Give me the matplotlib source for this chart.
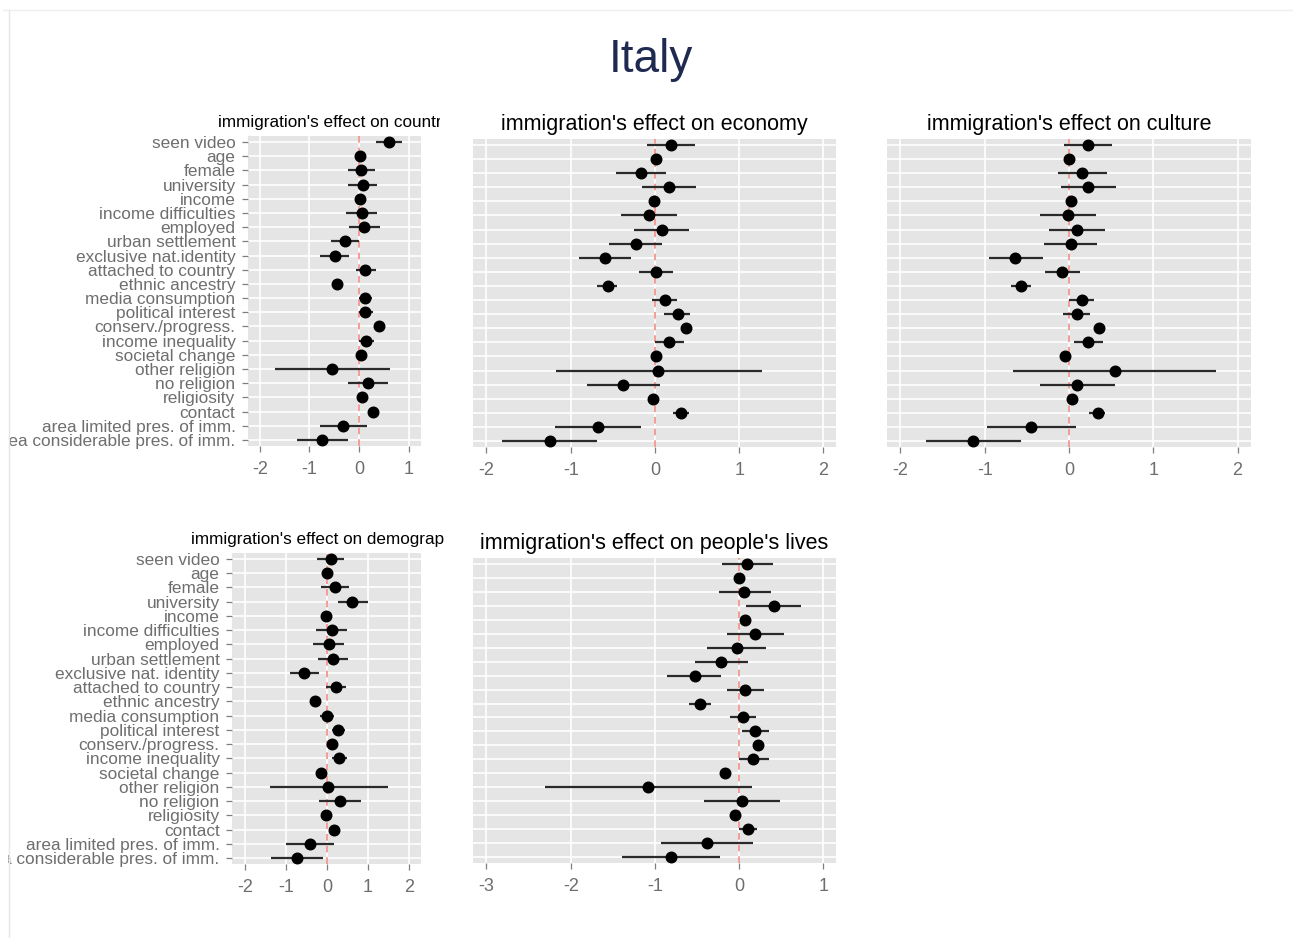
import numpy as np
import matplotlib
matplotlib.use("Agg")
import matplotlib.pyplot as plt
from matplotlib.patches import Rectangle
from matplotlib.lines import Line2D
from matplotlib.transforms import Bbox, TransformedBbox

plt.rcParams['font.family'] = ['Liberation Sans', 'DejaVu Sans']

# --- Predictors (top to bottom) ---
labels = ["seen video", "age", "female", "university", "income",
          "income difficulties", "employed", "urban settlement",
          "exclusive nat.identity", "attached to country", "ethnic ancestry",
          "media consumption", "political interest", "conserv./progress.",
          "income inequality", "societal change", "other religion",
          "no religion", "religiosity", "contact",
          "area limited pres. of imm.", "area considerable pres. of imm."]
labels_demo = labels.copy()
labels_demo[8] = "exclusive nat. identity"

# --- Coefficients and intervals per outcome ---
country_est = [0.60, 0.01, 0.03, 0.07, 0.01, 0.05, 0.10, -0.28, -0.49, 0.13, -0.44,
               0.13, 0.13, 0.40, 0.15, 0.03, -0.54, 0.18, 0.05, 0.28, -0.32, -0.74]
country_lo = [0.34, -0.02, -0.23, -0.23, -0.03, -0.27, -0.21, -0.57, -0.79, -0.07, -0.54,
              0.00, 0.00, 0.36, 0.00, -0.01, -1.69, -0.23, 0.01, 0.20, -0.79, -1.26]
country_hi = [0.87, 0.04, 0.32, 0.37, 0.10, 0.37, 0.42, 0.00, -0.20, 0.34, -0.34,
              0.27, 0.29, 0.44, 0.30, 0.07, 0.62, 0.59, 0.09, 0.37, 0.17, -0.22]

economy_est = [0.19, 0.01, -0.16, 0.17, -0.01, -0.07, 0.08, -0.22, -0.59, 0.01, -0.56,
               0.12, 0.27, 0.37, 0.17, 0.01, 0.04, -0.38, -0.02, 0.31, -0.67, -1.25]
economy_lo = [-0.09, -0.02, -0.46, -0.15, -0.04, -0.40, -0.25, -0.54, -0.90, -0.19, -0.69,
              -0.04, 0.11, 0.33, 0.00, -0.02, -1.18, -0.81, -0.05, 0.21, -1.19, -1.81]
economy_hi = [0.48, 0.04, 0.13, 0.49, 0.02, 0.26, 0.41, 0.08, -0.28, 0.22, -0.45,
              0.26, 0.42, 0.41, 0.34, 0.04, 1.27, 0.06, 0.01, 0.40, -0.16, -0.69]

culture_est = [0.23, 0.00, 0.16, 0.23, 0.02, -0.01, 0.09, 0.02, -0.64, -0.08, -0.57,
               0.15, 0.09, 0.36, 0.23, -0.05, 0.55, 0.10, 0.03, 0.34, -0.45, -1.14]
culture_lo = [-0.06, -0.03, -0.13, -0.09, -0.01, -0.34, -0.24, -0.30, -0.95, -0.29, -0.69,
              0.00, -0.07, 0.32, 0.06, -0.08, -0.66, -0.34, 0.00, 0.24, -0.97, -1.70]
culture_hi = [0.51, 0.03, 0.45, 0.56, 0.05, 0.32, 0.43, 0.33, -0.31, 0.13, -0.45,
              0.30, 0.25, 0.40, 0.40, -0.02, 1.74, 0.54, 0.06, 0.43, 0.08, -0.57]

demog_est = [0.10, 0.00, 0.20, 0.61, -0.02, 0.11, 0.04, 0.14, -0.56, 0.22, -0.30,
             0.00, 0.27, 0.11, 0.29, -0.16, 0.02, 0.31, -0.03, 0.16, -0.41, -0.73]
demog_lo = [-0.24, -0.03, -0.15, 0.26, -0.05, -0.27, -0.34, -0.22, -0.92, -0.02, -0.41,
            -0.18, 0.12, 0.08, 0.12, -0.19, -1.41, -0.20, -0.06, 0.04, -1.00, -1.37]
demog_hi = [0.41, 0.03, 0.53, 0.99, 0.01, 0.49, 0.41, 0.51, -0.19, 0.46, -0.20,
            0.16, 0.45, 0.14, 0.49, -0.13, 1.49, 0.82, 0.00, 0.26, 0.18, -0.10]

lives_est = [0.09, 0.00, 0.06, 0.41, 0.07, 0.19, -0.03, -0.21, -0.53, 0.07, -0.47,
             0.05, 0.19, 0.22, 0.17, -0.17, -1.08, 0.03, -0.05, 0.10, -0.38, -0.81]
lives_lo = [-0.20, -0.03, -0.24, 0.08, 0.03, -0.15, -0.38, -0.53, -0.86, -0.15, -0.60,
            -0.11, 0.03, 0.18, 0.00, -0.20, -2.30, -0.42, -0.08, 0.00, -0.93, -1.39]
lives_hi = [0.40, 0.03, 0.38, 0.74, 0.10, 0.53, 0.32, 0.11, -0.21, 0.29, -0.34,
            0.20, 0.35, 0.26, 0.35, -0.14, 0.15, 0.49, -0.02, 0.21, 0.16, -0.23]

W, H = 1293, 938
fig = plt.figure(figsize=(W / 100, H / 100), dpi=100)
fig.patch.set_facecolor('white')

GREY_TXT = '#6E6E6E'


def panel(box, est, lo, hi, xlim, xticks, title, title_size, ylabels=None,
          title_clip=None):
    x0, y0, x1, y1 = box
    ax = fig.add_axes([x0 / W, 1 - y1 / H, (x1 - x0) / W, (y1 - y0) / H])
    n = len(est)
    y = np.arange(n)[::-1]
    ax.set_facecolor('#E5E5E5')
    ax.set_xlim(*xlim)
    ax.set_ylim(-0.42, n - 1 + 0.42)
    for s in ax.spines.values():
        s.set_visible(False)
    ax.set_xticks(xticks)
    ax.set_xticklabels([str(t) for t in xticks])
    ax.set_yticks(y)
    if ylabels is not None:
        ax.set_yticklabels(ylabels)
        ax.tick_params(axis='y', length=4.5, width=0.9, color='#7F7F7F',
                       labelsize=12.4, labelcolor=GREY_TXT, pad=4.5)
    else:
        ax.tick_params(axis='y', length=0, labelleft=False)
    ax.tick_params(axis='x', length=4.5, width=0.9, color='#7F7F7F',
                   labelsize=13, labelcolor=GREY_TXT, pad=6)
    ax.grid(True, color='white', linewidth=1.2)
    ax.set_axisbelow(True)

    ax.axvline(0, color='#F28C84', linewidth=1.2, dashes=(4, 3), zorder=1.5)
    ax.hlines(y, lo, hi, color='#2A2A2A', linewidth=1.6, zorder=2)
    ax.plot(est, y, 'o', color='black', markersize=7.6, zorder=3)

    t = ax.set_title(title, fontsize=title_size, color='black', pad=6.5)
    if title_clip is not None:
        clip = TransformedBbox(Bbox.from_extents(0, 0, title_clip / W, 1),
                               fig.transFigure)
        t.set_clip_box(clip)
        t.set_clip_on(True)
    return ax


panel((248, 136, 421, 446), country_est, country_lo, country_hi,
      (-2.24, 1.25), [-2, -1, 0, 1], "immigration's effect on country", 12.3,
      ylabels=labels, title_clip=440)
panel((473, 139, 836, 447), economy_est, economy_lo, economy_hi,
      (-2.16, 2.15), [-2, -1, 0, 1, 2], "immigration's effect on economy", 15.5)
panel((887, 139, 1251, 447), culture_est, culture_lo, culture_hi,
      (-2.16, 2.16), [-2, -1, 0, 1, 2], "immigration's effect on culture", 15.5)
panel((232, 553, 421, 864), demog_est, demog_lo, demog_hi,
      (-2.33, 2.30), [-2, -1, 0, 1, 2], "immigration's effect on demography", 12.3,
      ylabels=labels_demo, title_clip=445)
panel((473, 558, 836, 863), lives_est, lives_lo, lives_hi,
      (-3.16, 1.15), [-3, -2, -1, 0, 1], "immigration's effect on people's lives", 15.5)

fig.text(651 / W, 1 - 72 / H, 'Italy', ha='center', va='baseline',
         fontsize=33, color='#1F2A50')

# slide edge: blank margin on the left plus a thin frame line
fig.add_artist(Rectangle((0, 0), 8 / W, 1, transform=fig.transFigure,
                         facecolor='white', edgecolor='none', zorder=20))
fig.add_artist(Line2D([8.5 / W, 8.5 / W], [0, 1 - 10 / H], transform=fig.transFigure,
                      color='#E6E6E6', linewidth=1, zorder=21))
fig.add_artist(Line2D([3 / W, 1], [1 - 10.5 / H, 1 - 10.5 / H], transform=fig.transFigure,
                      color='#EEEEEE', linewidth=1, zorder=21))

fig.savefig('out.png', dpi=100)
